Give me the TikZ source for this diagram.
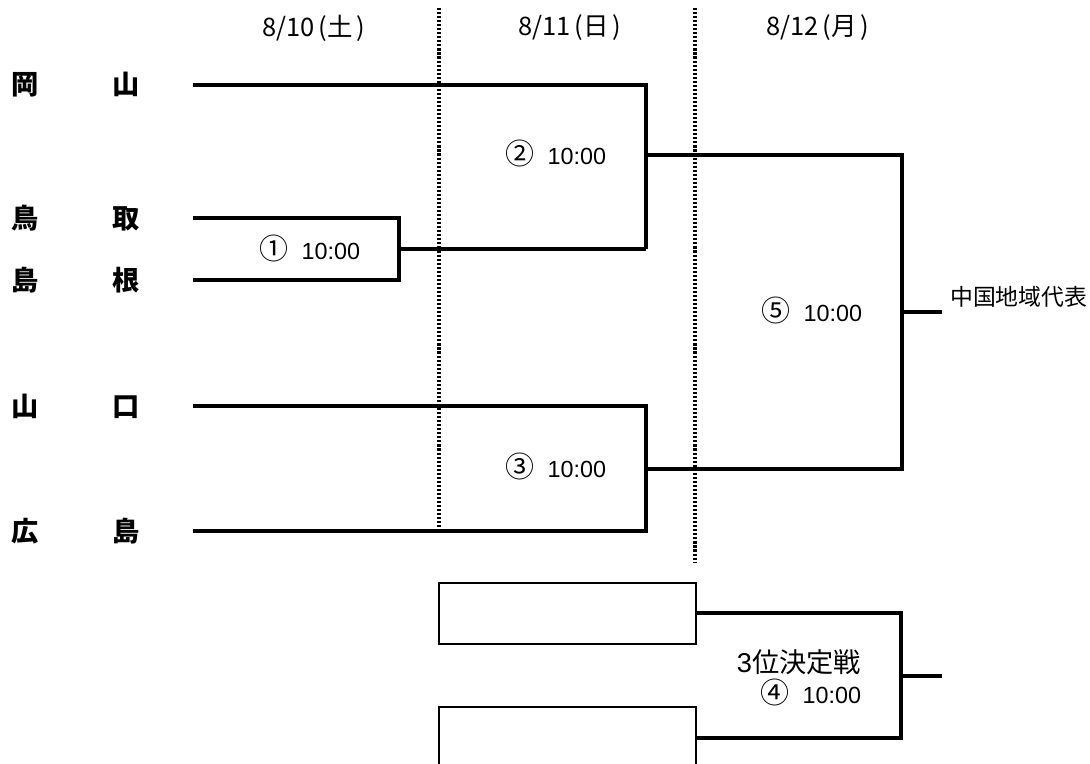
\documentclass[tikz,border=0pt]{standalone}
\usepackage{fontspec}
\setmainfont{Liberation Sans}
\newfontfamily\jp{Noto Sans CJK JP}
\usetikzlibrary{positioning}

\newcommand{\circnum}[1]{{\jp\fontsize{16.5}{16.5}\selectfont #1}\hspace{0.55em}10:00}

\begin{document}
\begin{tikzpicture}[line join=miter,x=0.02cm,y=-0.02cm,
	bracket/.style={line width=2.1pt},
	thinbox/.style={line width=0.8pt},
	daysep/.style={line width=1.8pt,dash pattern=on 1.2pt off 1.1pt},
	team/.style={anchor=west,inner sep=0pt,font=\jp\bfseries\fontsize{15.5}{15.5}\selectfont},
	day/.style={font=\jp\fontsize{14.5}{14.5}\selectfont},
	game/.style={font=\fontsize{13.3}{13.3}\selectfont}]
	\useasboundingbox (0,0) rectangle (1090,764);
	% days
	\node[day] (d10) at (314,28) {8/10\hspace{0.15em}(土\hspace{0.15em})};
	\node[day] (d11) at (570,28) {8/11\hspace{0.15em}(日\hspace{0.15em})};
	\node[day] (d12) at (818,28) {8/12\hspace{0.15em}(月\hspace{0.15em})};
	\draw[daysep] (439,8) coordinate (s1) -- (439,528);
	\draw[daysep] (695,8) coordinate (s2) -- (695,563);
	% teams
	\node[team] (okayama) at (11,85) {岡\hspace{2.7em}山};
	\node[team] (tottori) at (11,218) {鳥\hspace{2.7em}取};
	\node[team] (shimane) at (11,280) {島\hspace{2.7em}根};
	\node[team] (yamaguchi) at (11,406) {山\hspace{2.7em}口};
	\node[team] (hiroshima) at (11,531) {広\hspace{2.7em}島};
	\coordinate (a) at (193,85);
	\coordinate (b) at (193,218);
	\coordinate (c) at (193,280);
	\coordinate (d) at (193,406);
	\coordinate (e) at (193,531);
	\coordinate (g1) at (399,249);
	\coordinate (g2) at (646,155);
	\coordinate (g3) at (646,469);
	\coordinate (g5) at (902,312);
	\coordinate (rep) at (942,312);
	% bracket
	\draw[bracket] (b) -- (b -| g1) -- (c -| g1) -- (c);
	\draw[bracket] (g1) -- (g1 -| g2);
	\draw[bracket] (a) -- (a -| g2) -- (g1 -| g2);
	\draw[bracket] (d) -- (d -| g3) -- (e -| g3) -- (e);
	\draw[bracket] (g2) -- (g2 -| g5) -- (g3 -| g5) -- (g3);
	\draw[bracket] (g5) -- (rep);
	\node[game] (m1) at (310,248) {\circnum{①}};
	\node[game] (m2) at (556,153) {\circnum{②}};
	\node[game] (m3) at (556,466) {\circnum{③}};
	\node[game] (m5) at (812,310) {\circnum{⑤}};
	\node[day,font=\jp\fontsize{13}{13}\selectfont,anchor=west] (winner) at (944,297) {中国地域代表};
	% third place
	\draw[thinbox] (439,583) rectangle (696,644);
	\draw[thinbox] (439,764) -- (439,707) -- (696,707) -- (696,764);
	\coordinate (l1) at (696,613);
	\coordinate (l2) at (696,738);
	\coordinate (g4) at (901,676);
	\draw[bracket] (l1) -- (l1 -| g4) -- (l2 -| g4) -- (l2);
	\draw[bracket] (g4) -- (942,676);
	\node[font=\fontsize{15.5}{15.5}\selectfont] (third) at (799,662) {3{\jp 位決定戦}};
	\node[game] (m4) at (811,692) {\circnum{④}};
\end{tikzpicture}
\end{document}
